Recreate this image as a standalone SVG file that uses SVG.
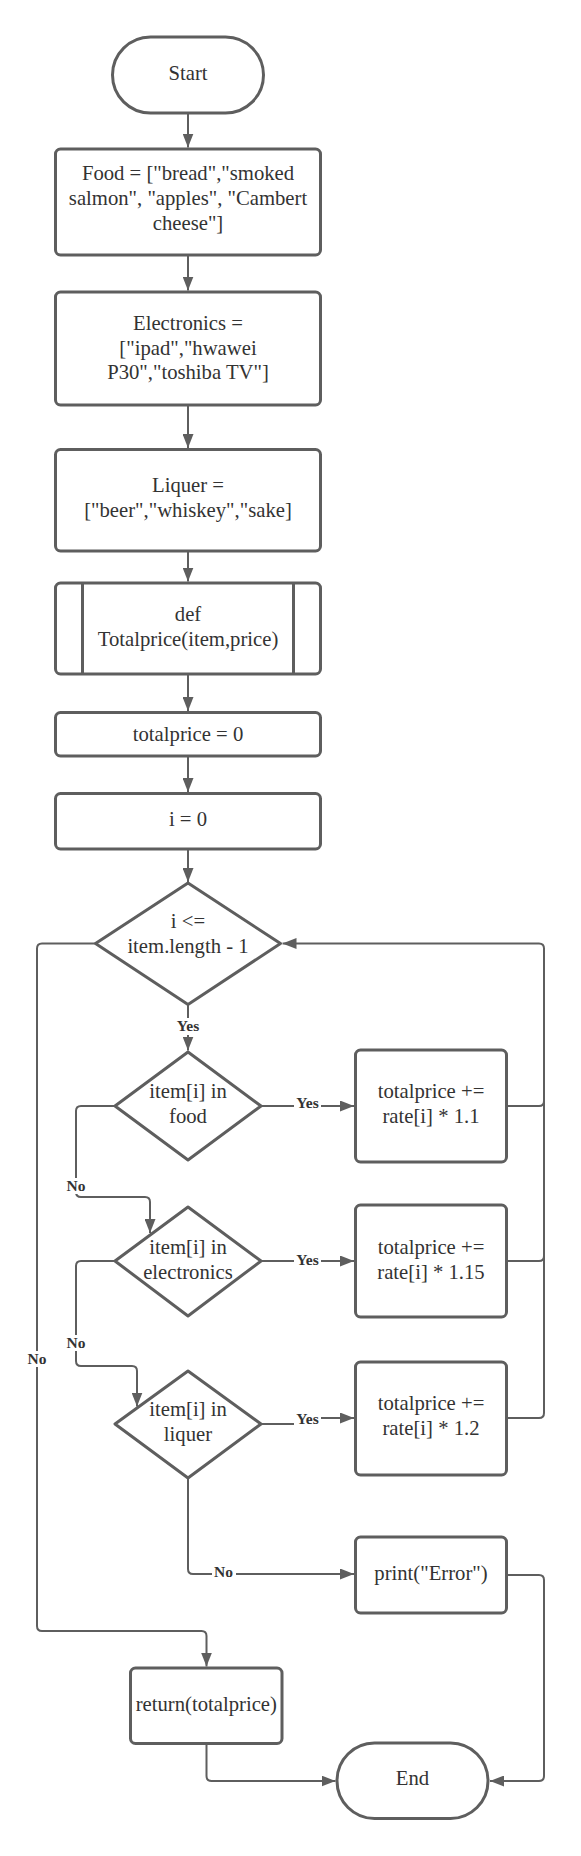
<svg xmlns="http://www.w3.org/2000/svg" width="581" height="1856" viewBox="0 0 581 1856">
<defs>
<style>
.n{fill:#fff;stroke:#5e5e5e;stroke-width:3;stroke-linejoin:round}
.t{font-family:"Liberation Serif","Times New Roman",serif;font-size:20.7px;fill:#333;text-anchor:middle}
.c{fill:none;stroke:#5e5e5e;stroke-width:2}
.a{marker-end:url(#ah)}
.lb{fill:#fff}
.l{font-family:"Liberation Serif","Times New Roman",serif;font-size:15.5px;font-weight:bold;fill:#333;text-anchor:middle}
</style>
<marker id="ah" markerUnits="userSpaceOnUse" markerWidth="14" markerHeight="11" refX="14" refY="5.5" orient="auto">
<path d="M0,0 L14,5.5 L0,11 z" fill="#5e5e5e"/>
</marker>
</defs>
<rect width="581" height="1856" fill="#fff"/>
<g id="connectors">
<path class="c a" d="M188,113 V147.5"/>
<path class="c a" d="M188,255 V290.5"/>
<path class="c a" d="M188,405 V448"/>
<path class="c a" d="M188,551 V581.5"/>
<path class="c a" d="M188,674 V711"/>
<path class="c a" d="M188,756 V792"/>
<path class="c a" d="M188,849 V882"/>
<path class="c a" d="M188,1004 V1050.5"/>
<path class="c a" d="M261,1106 H354"/>
<path class="c a" d="M115,1106 H81 Q76,1106 76,1111 V1192 Q76,1197 81,1197 H145 Q150,1197 150,1202 V1233"/>
<path class="c a" d="M261,1261 H354"/>
<path class="c a" d="M115,1261 H81 Q76,1261 76,1266 V1361 Q76,1366 81,1366 H132 Q137,1366 137,1371 V1406.5"/>
<path class="c a" d="M261,1424 H302 V1418 H354"/>
<path class="c" d="M506.5,1106 H539 Q544,1106 544,1101"/>
<path class="c" d="M506.5,1261 H539 Q544,1261 544,1256"/>
<path class="c a" d="M506.5,1418 H539 Q544,1418 544,1413 V948.5 Q544,943.5 539,943.5 H282.5"/>
<path class="c a" d="M188,1478 V1569 Q188,1574 193,1574 H354"/>
<path class="c a" d="M506.5,1575 H539 Q544,1575 544,1580 V1776 Q544,1781 539,1781 H490"/>
<path class="c a" d="M95.5,943.5 H42 Q37,943.5 37,948.5 V1626 Q37,1631 42,1631 H201.5 Q206.5,1631 206.5,1636 V1666.5"/>
<path class="c a" d="M206.5,1744 V1776 Q206.5,1781 211.5,1781 H335.5"/>
<g id="labels">
<rect class="lb" x="174" y="1018" width="28" height="17"/>
<text class="l" x="188" y="1031">Yes</text>
<rect class="lb" x="294" y="1096" width="27" height="14"/>
<text class="l" x="307.5" y="1108">Yes</text>
<rect class="lb" x="64" y="1178" width="24" height="16"/>
<text class="l" x="76" y="1191">No</text>
<rect class="lb" x="294" y="1253" width="27" height="14"/>
<text class="l" x="307.5" y="1265">Yes</text>
<rect class="lb" x="64" y="1335" width="24" height="16"/>
<text class="l" x="76" y="1348">No</text>
<rect class="lb" x="294" y="1412" width="27" height="14"/>
<text class="l" x="307.5" y="1424">Yes</text>
<rect class="lb" x="212" y="1566" width="24" height="13"/>
<text class="l" x="223.5" y="1577">No</text>
<rect class="lb" x="25" y="1351" width="24" height="16"/>
<text class="l" x="37" y="1364">No</text>
</g>
</g>
<g id="start">
<rect class="n" x="112.5" y="37" width="151" height="76" rx="38"/>
<text class="t" x="188" y="80">Start</text>
</g>
<g id="food">
<rect class="n" x="55.5" y="149" width="265" height="106" rx="5"/>
<text class="t" x="188" y="180">Food = ["bread","smoked</text>
<text class="t" x="188" y="205">salmon", "apples", "Cambert</text>
<text class="t" x="188" y="230">cheese"]</text>
</g>
<g id="electronics">
<rect class="n" x="55.5" y="292" width="265" height="113" rx="5"/>
<text class="t" x="188" y="330">Electronics =</text>
<text class="t" x="188" y="354.5">["ipad","hwawei</text>
<text class="t" x="188" y="379">P30","toshiba TV"]</text>
</g>
<g id="liquer">
<rect class="n" x="55.5" y="449.5" width="265" height="101.5" rx="5"/>
<text class="t" x="188" y="492">Liquer =</text>
<text class="t" x="188" y="517">["beer","whiskey","sake]</text>
</g>
<g id="def">
<rect class="n" x="55.5" y="583" width="265" height="91" rx="5"/>
<line class="n" x1="82.5" y1="583" x2="82.5" y2="674"/>
<line class="n" x1="293.5" y1="583" x2="293.5" y2="674"/>
<text class="t" x="188" y="621">def</text>
<text class="t" x="188" y="646">Totalprice(item,price)</text>
</g>
<g id="totalprice0">
<rect class="n" x="55.5" y="712.5" width="265" height="43.5" rx="5"/>
<text class="t" x="188" y="741">totalprice = 0</text>
</g>
<g id="i0">
<rect class="n" x="55.5" y="793.5" width="265" height="55.5" rx="5"/>
<text class="t" x="188" y="826">i = 0</text>
</g>
<g id="loopcond">
<polygon class="n" points="188,883 280.5,943.5 188,1004.5 95.5,943.5"/>
<text class="t" x="188" y="928">i &lt;=</text>
<text class="t" x="188" y="953">item.length - 1</text>
</g>
<g id="infood">
<polygon class="n" points="188,1052 261,1106 188,1160 115,1106"/>
<text class="t" x="188" y="1098">item[i] in</text>
<text class="t" x="188" y="1123">food</text>
</g>
<g id="rate1">
<rect class="n" x="355.5" y="1050" width="151" height="112" rx="5"/>
<text class="t" x="431" y="1098">totalprice +=</text>
<text class="t" x="431" y="1123">rate[i] * 1.1</text>
</g>
<g id="inelectronics">
<polygon class="n" points="188,1207 261,1261 188,1316 115,1261"/>
<text class="t" x="188" y="1254">item[i] in</text>
<text class="t" x="188" y="1279">electronics</text>
</g>
<g id="rate2">
<rect class="n" x="355.5" y="1205" width="151" height="112" rx="5"/>
<text class="t" x="431" y="1254">totalprice +=</text>
<text class="t" x="431" y="1279">rate[i] * 1.15</text>
</g>
<g id="inliquer">
<polygon class="n" points="188,1371 261,1424 188,1478 115,1424"/>
<text class="t" x="188" y="1416">item[i] in</text>
<text class="t" x="188" y="1441">liquer</text>
</g>
<g id="rate3">
<rect class="n" x="355.5" y="1362" width="151" height="113" rx="5"/>
<text class="t" x="431" y="1410">totalprice +=</text>
<text class="t" x="431" y="1435">rate[i] * 1.2</text>
</g>
<g id="printerror">
<rect class="n" x="355.5" y="1537" width="151" height="76" rx="5"/>
<text class="t" x="431" y="1580">print("Error")</text>
</g>
<g id="return">
<rect class="n" x="130.5" y="1668" width="151.5" height="75.5" rx="5"/>
<text class="t" x="206.3" y="1711">return(totalprice)</text>
</g>
<g id="end">
<rect class="n" x="337" y="1743" width="151" height="75.5" rx="37.5"/>
<text class="t" x="412.5" y="1785">End</text>
</g>
</svg>
